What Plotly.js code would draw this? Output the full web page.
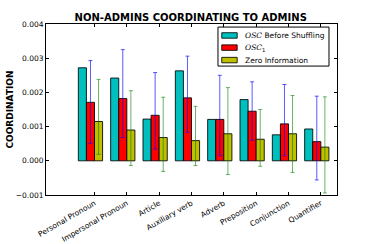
<!DOCTYPE html>
<html>
<head>
<meta charset="utf-8">
<script src="https://cdn.plot.ly/plotly-3.0.1.min.js"></script>
<style>html,body{margin:0;padding:0;background:#fff;}#chart{width:374px;height:244px;}</style>
</head>
<body>
<div id="chart"></div>
<script>
const categories = ["Personal Pronoun", "Impersonal Pronoun", "Article", "Auxiliary verb", "Adverb", "Preposition", "Conjunction", "Quantifier"];
const oscBefore = [0.00272, 0.00242, 0.00122, 0.00263, 0.00121, 0.00179, 0.00076, 0.00093];
const osc1 = [0.00171, 0.00182, 0.00133, 0.00184, 0.00121, 0.00145, 0.00108, 0.00056];
const zeroInfo = [0.00115, 0.00090, 0.00068, 0.00059, 0.00079, 0.00063, 0.00079, 0.00040];
const osc1Upper = [0.00293, 0.00325, 0.00258, 0.00306, 0.00250, 0.00231, 0.00223, 0.00189];
const osc1Lower = [0.00051, 0.00068, 0.00034, 0.00083, 0.00015, 0.00060, 0.00015, -0.00056];
const zeroUpper = [0.00238, 0.00205, 0.00186, 0.00159, 0.00214, 0.00150, 0.00191, 0.00187];
const zeroLower = [0.00019, -0.00014, -0.00031, -0.00014, -0.00040, -0.00016, -0.00034, -0.00094];
const seriesNames = [
  "<span style='font-family:DejaVu Serif;font-style:italic'>OSC</span> Before Shuffling",
  "<span style='font-family:DejaVu Serif;font-style:italic'>OSC</span><sub>1</sub>",
  "Zero Information"
];
const seriesColors = ['#00bfbf', '#ff0000', '#bfbf00'];

const idx = categories.map((c, i) => i);
const w = 0.25;
const edge = {color: 'rgba(0,0,0,0.85)', width: 1};

const traces = [
  {type: 'bar', x: idx, y: oscBefore, width: w, offset: 0,
   marker: {color: seriesColors[0], line: edge}, name: seriesNames[0]},
  {type: 'bar', x: idx, y: osc1, width: w, offset: w,
   marker: {color: seriesColors[1], line: edge}, name: seriesNames[1],
   error_y: {type: 'data', symmetric: false,
     array: osc1.map((v, i) => osc1Upper[i] - v),
     arrayminus: osc1.map((v, i) => v - osc1Lower[i]),
     color: 'rgba(0,0,255,0.65)', thickness: 1, width: 2}},
  {type: 'bar', x: idx, y: zeroInfo, width: w, offset: 2 * w,
   marker: {color: seriesColors[2], line: edge}, name: seriesNames[2],
   error_y: {type: 'data', symmetric: false,
     array: zeroInfo.map((v, i) => zeroUpper[i] - v),
     arrayminus: zeroInfo.map((v, i) => v - zeroLower[i]),
     color: 'rgba(0,128,0,0.6)', thickness: 1, width: 2}}
];

// custom compact legend (paper coordinates)
const legBox = {x0: 0.591, x1: 0.9725, y0: 0.754, y1: 0.982};
const itemY = [0.933, 0.862, 0.789];
const shapes = [{type: 'rect', xref: 'paper', yref: 'paper', x0: legBox.x0, x1: legBox.x1, y0: legBox.y0, y1: legBox.y1,
                 fillcolor: '#fff', line: {color: '#000', width: 1}}];
const annotations = [];
seriesNames.forEach((n, i) => {
  shapes.push({type: 'rect', xref: 'paper', yref: 'paper', x0: 0.604, x1: 0.657,
               y0: itemY[i] - 0.016, y1: itemY[i] + 0.016,
               fillcolor: seriesColors[i], line: {color: 'rgba(0,0,0,0.85)', width: 1}});
  annotations.push({xref: 'paper', yref: 'paper', x: 0.677, y: itemY[i], xanchor: 'left', yanchor: 'middle',
                    text: n, showarrow: false, font: {size: 7.5}});
});

const layout = {
  width: 374, height: 244,
  margin: {l: 46, r: 37, t: 24, b: 49},
  paper_bgcolor: '#fff', plot_bgcolor: '#fff',
  barmode: 'overlay',
  showlegend: false,
  font: {family: 'DejaVu Sans', size: 8, color: '#000'},
  title: {text: '<b>NON-ADMINS COORDINATING TO ADMINS</b>', x: 0.51, xanchor: 'center', y: 0.93, yanchor: 'middle',
          font: {family: 'DejaVu Sans', size: 10, color: '#000'}},
  xaxis: {range: [-1, 8], tickvals: idx.map(i => i + 0.5), ticktext: categories,
          tickangle: -30, ticks: 'inside', ticklen: 3, tickcolor: '#000', mirror: 'allticks',
          showline: true, linecolor: '#000', linewidth: 1, showgrid: false, zeroline: false,
          tickfont: {size: 7.5}},
  yaxis: {range: [-0.001, 0.004], dtick: 0.001, tickformat: '.3f',
          ticks: 'inside', ticklen: 3, tickcolor: '#000', mirror: 'allticks',
          showline: true, linecolor: '#000', linewidth: 1, showgrid: false, zeroline: false,
          tickfont: {size: 7.5},
          title: {text: '<b>COORDINATION</b>', font: {size: 9}, standoff: 0}},
  shapes: shapes,
  annotations: annotations
};

Plotly.newPlot('chart', traces, layout, {staticPlot: true, displayModeBar: false});
</script>
</body>
</html>
